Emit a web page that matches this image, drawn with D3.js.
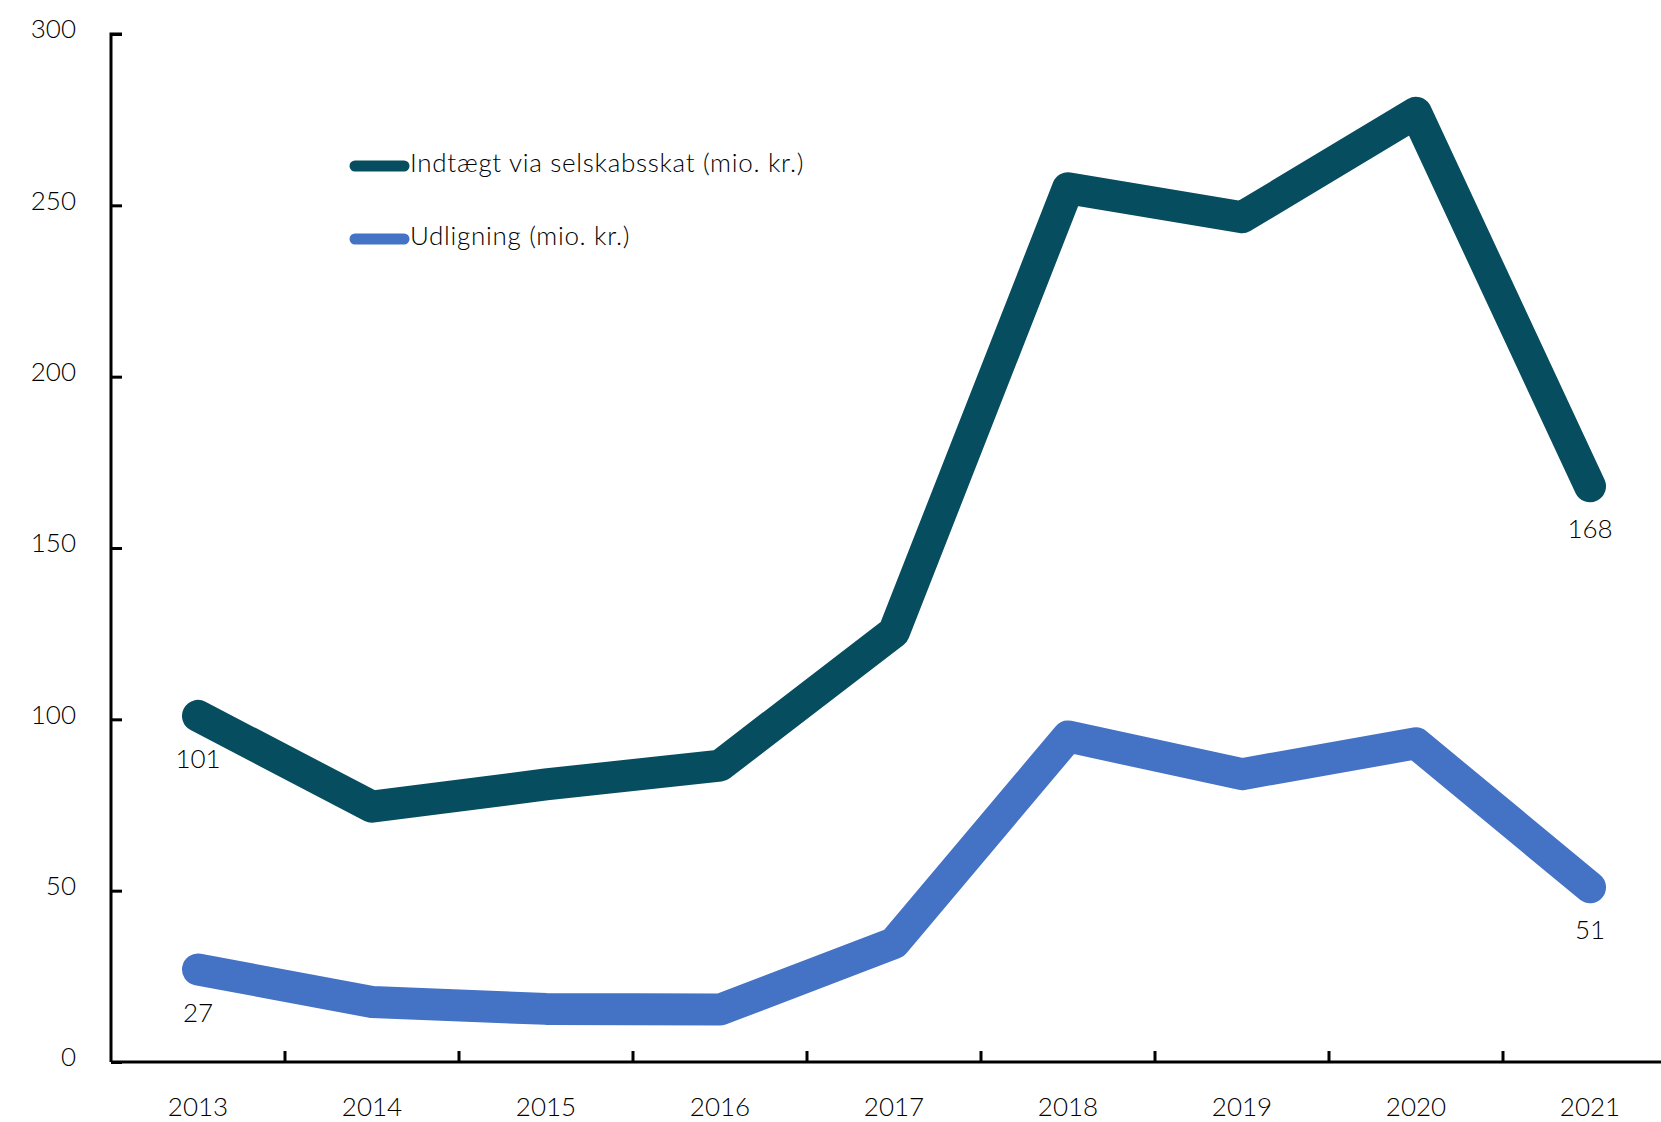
<!DOCTYPE html>
<html>
<head>
<meta charset="utf-8">
<script src="https://cdn.jsdelivr.net/npm/d3@7"></script>
<style>
  html, body { margin: 0; padding: 0; background: #fff; }
  svg { display: block; }
  text { font-family: Lato, "Liberation Sans", sans-serif; font-weight: 300; fill: #000; }
</style>
</head>
<body>
<svg id="chart" width="1661" height="1122"></svg>
<script>
const years = ["2013","2014","2015","2016","2017","2018","2019","2020","2021"];
const selskabsskat = [101, 74.5, 81, 86.5, 125.5, 255, 246.5, 277, 168];
const udligning = [27, 17.5, 15.5, 15.3, 34.7, 95, 84, 93, 51];
const yTicks = [0, 50, 100, 150, 200, 250, 300];
const seriesNames = ["Indtægt via selskabsskat (mio. kr.)", "Udligning (mio. kr.)"];
const seriesColors = ["#064e5f", "#4472c4"];

const svg = d3.select("#chart");
const x = d3.scaleBand().domain(years).range([111, 111 + 9 * 174]);
const y = d3.scaleLinear().domain([0, 300]).range([1062, 34]);

// y axis
const yAxis = svg.append("g").attr("transform", "translate(111,0)")
  .call(d3.axisRight(y).tickValues(yTicks).tickSize(11).tickFormat(d3.format("d")));
yAxis.select(".domain").attr("stroke", "#000").attr("stroke-width", 3).attr("d", "M11,34H0V1062");
yAxis.selectAll(".tick line").attr("stroke", "#000").attr("stroke-width", 3);
yAxis.selectAll(".tick text").attr("x", -35).attr("dy", "0.15em").attr("text-anchor", "end")
  .style("font-size", "26px").style("font-family", "Lato, sans-serif").style("font-weight", 300).attr("fill", "#000");

// x axis
const xTickPos = years.slice(1).map((d) => x(d));
const xAxis = svg.append("g").attr("transform", "translate(0,1062)")
  .call(d3.axisBottom(x).tickSize(0).tickPadding(46));
xAxis.select(".domain").attr("stroke", "#000").attr("stroke-width", 3).attr("d", "M111,0H1661");
xAxis.selectAll(".tick text").style("font-size", "26px").style("font-family", "Lato, sans-serif").style("font-weight", 300).attr("fill", "#000").attr("dy", "0.3em");
svg.append("g").selectAll("line").data(xTickPos).join("line")
  .attr("x1", (d) => d).attr("x2", (d) => d).attr("y1", 1062).attr("y2", 1051)
  .attr("stroke", "#000").attr("stroke-width", 3);

const cx = (d) => x(d) + x.bandwidth() / 2;
const line = d3.line().x((d, i) => cx(years[i])).y((d) => y(d));

[udligning, selskabsskat].forEach((s, k) => {
  svg.append("path").datum(s)
    .attr("d", line)
    .attr("fill", "none")
    .attr("stroke", k === 0 ? seriesColors[1] : seriesColors[0])
    .attr("stroke-width", 32)
    .attr("stroke-linecap", "round")
    .attr("stroke-linejoin", "round");
});

// data labels (first and last)
const labels = [
  { yr: years[0], v: selskabsskat[0] },
  { yr: years[8], v: selskabsskat[8] },
  { yr: years[0], v: udligning[0] },
  { yr: years[8], v: udligning[8] }
];
svg.append("g").selectAll("text").data(labels).join("text")
  .attr("x", (d) => cx(d.yr))
  .attr("y", (d) => y(d.v) + 43)
  .attr("dy", "0.35em")
  .attr("text-anchor", "middle")
  .style("font-size", "26px")
  .text((d) => d3.format("d")(d.v));

// legend
const legend = svg.append("g");
const legY = [166, 239];
seriesNames.forEach((n, i) => {
  legend.append("line").attr("x1", 355).attr("x2", 404).attr("y1", legY[i]).attr("y2", legY[i])
    .attr("stroke", seriesColors[i]).attr("stroke-width", 11).attr("stroke-linecap", "round");
  legend.append("text").attr("x", 410).attr("y", legY[i]).attr("dy", "0.22em")
    .style("font-size", "26px").style("letter-spacing", "0.7px").text(n);
});
</script>
</body>
</html>
